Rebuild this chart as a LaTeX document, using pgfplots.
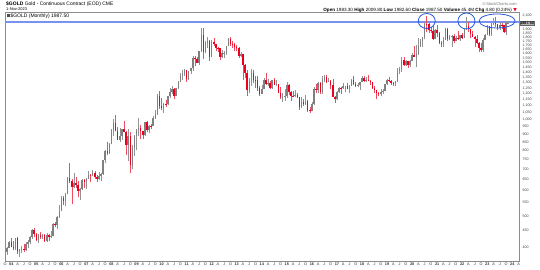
\documentclass[border=0pt]{standalone}
\usepackage{pgfplots}
\pgfplotsset{compat=1.18}
\usepackage{pgfplotstable}
\usepackage{fontspec}
\setmainfont{Liberation Sans}
\newfontfamily\sym{DejaVu Sans}
\definecolor{upc}{rgb}{0.5,0.5,0.5}
\definecolor{dnc}{rgb}{0.92,0.0,0.12}
\definecolor{lineblue}{rgb}{0.47,0.57,0.95}
\definecolor{circblue}{rgb}{0.15,0.35,0.85}
\pgfplotsset{candle/.style={only marks, mark=*, mark size=0pt, mark options={draw=none, fill=none}, forget plot}}

\pgfplotstableread{
m o h l c
-2 386 400 378 398
-1 398 417 396 416
2 396 428 393 427
4 388 395 373 394
5 394 404 384 395
7 391 415 389 408
8 408 420 398 416
9 416 432 410 429
10 429 455 424 453
13 422 438 411 436
15 429 439 423 436
17 417 442 414 437
19 429 448 428 433
20 433 476 432 473
22 470 499 456 496
23 496 542 494 518
24 518 575 517 569
26 556 588 538 585
27 585 660 583 654
30 616 678 613 635
33 599 612 560 606
34 606 651 603 648
36 636 657 608 652
37 652 691 650 672
39 669 697 668 680
42 652 684 648 668
43 668 681 642 673
44 673 749 672 746
45 746 801 729 795
47 783 842 781 838
48 838 935 835 923
49 923 1000 884 975
52 864 938 852 887
53 887 934 863 930
56 833 935 740 884
58 718 829 700 815
59 815 890 770 884
60 884 935 802 928
61 928 1007 889 942
64 891 983 884 979
66 927 960 904 955
68 953 1025 950 1008
69 1008 1071 1002 1040
70 1040 1196 1034 1182
73 1081 1127 1045 1118
75 1115 1185 1110 1179
76 1179 1249 1165 1213
77 1213 1266 1196 1244
79 1181 1250 1178 1247
80 1247 1316 1245 1308
81 1308 1388 1303 1359
82 1359 1425 1329 1386
83 1386 1432 1363 1421
85 1333 1413 1329 1411
86 1411 1448 1380 1439
87 1439 1575 1417 1556
90 1500 1632 1478 1628
91 1628 1917 1620 1828
93 1620 1755 1602 1725
94 1725 1804 1669 1746
96 1566 1764 1562 1738
101 1560 1640 1547 1604
102 1604 1630 1555 1610
103 1610 1695 1586 1692
104 1692 1795 1691 1772
110 1578 1616 1565 1595
114 1234 1348 1208 1312
115 1312 1434 1270 1395
120 1202 1280 1195 1240
121 1240 1345 1238 1321
123 1284 1331 1268 1296
125 1250 1326 1240 1322
127 1282 1322 1273 1287
130 1171 1206 1130 1175
131 1175 1239 1142 1184
132 1184 1307 1167 1278
136 1182 1232 1170 1190
139 1095 1170 1080 1132
141 1114 1191 1107 1142
144 1060 1128 1058 1116
145 1116 1263 1111 1238
147 1234 1303 1206 1292
149 1215 1362 1200 1322
150 1322 1377 1310 1350
152 1309 1344 1302 1316
156 1152 1222 1146 1212
157 1212 1264 1208 1254
159 1249 1297 1240 1268
160 1268 1271 1214 1269
162 1242 1275 1205 1269
163 1269 1331 1266 1322
166 1271 1299 1264 1276
167 1276 1310 1236 1309
168 1309 1366 1303 1345
170 1318 1356 1303 1327
177 1196 1246 1183 1215
178 1215 1240 1196 1222
179 1222 1286 1221 1283
180 1283 1331 1277 1321
184 1286 1315 1267 1311
185 1311 1442 1306 1413
186 1413 1453 1386 1437
187 1437 1566 1400 1529
189 1472 1528 1465 1514
191 1473 1528 1459 1523
192 1523 1613 1517 1588
194 1566 1704 1450 1597
195 1597 1788 1589 1694
196 1694 1775 1680 1751
197 1751 1806 1677 1800
198 1800 2005 1772 1986
203 1780 1911 1775 1895
207 1716 1798 1680 1768
208 1768 1917 1766 1906
210 1771 1834 1767 1817
211 1817 1832 1677 1818
213 1757 1815 1746 1784
215 1775 1831 1753 1829
217 1796 1915 1785 1908
218 1908 2079 1890 1949
226 1640 1786 1618 1768
227 1768 1836 1764 1826
228 1826 1960 1823 1945
230 1836 2010 1810 1986
231 1986 2063 1970 1999
234 1929 2001 1902 1970
237 1870 2019 1823 1996
238 1983.3 2009.8 1982.6 1987.5
}\upcandles

\pgfplotstableread{
m o h l c
0 416 427 399 400
1 400 418 392 396
3 427 430 381 388
6 395 409 385 391
11 453 457 431 438
12 438 441 418 422
14 436 447 424 429
16 436 438 415 417
18 437 440 418 429
21 473 478 461 470
25 569 577 541 556
28 654 733 634 643
29 643 650 543 616
31 635 663 613 626
32 626 640 573 599
35 648 650 612 636
38 672 675 636 669
40 680 692 652 660
41 660 670 639 652
46 795 848 776 783
50 975 1033 916 917
51 917 947 860 864
54 930 990 910 913
55 913 918 775 833
57 884 913 681 718
62 942 962 865 916
63 916 920 866 891
65 979 990 913 927
67 955 964 930 953
71 1182 1227 1075 1097
72 1097 1163 1072 1081
74 1118 1145 1089 1115
78 1244 1250 1155 1181
84 1421 1424 1308 1333
88 1556 1577 1462 1536
89 1536 1560 1496 1500
92 1828 1923 1535 1620
95 1746 1764 1523 1566
97 1738 1792 1692 1711
98 1711 1719 1627 1669
99 1669 1681 1614 1664
100 1664 1670 1527 1560
105 1772 1798 1695 1719
106 1719 1755 1672 1712
107 1712 1723 1636 1675
108 1675 1697 1627 1663
109 1663 1682 1555 1578
111 1595 1598 1321 1476
112 1476 1488 1339 1393
113 1393 1424 1180 1234
116 1395 1424 1292 1327
117 1327 1361 1251 1323
118 1323 1361 1221 1250
119 1250 1268 1182 1202
122 1321 1392 1278 1284
124 1296 1315 1240 1250
126 1322 1346 1280 1282
128 1287 1291 1205 1210
129 1210 1256 1160 1171
133 1278 1286 1191 1212
134 1212 1224 1142 1183
135 1183 1224 1170 1182
137 1190 1205 1162 1172
138 1172 1174 1072 1095
140 1132 1156 1098 1114
142 1142 1145 1052 1065
143 1065 1088 1046 1060
146 1238 1287 1208 1234
148 1292 1306 1199 1215
151 1350 1372 1300 1309
153 1316 1326 1241 1274
154 1274 1338 1171 1173
155 1173 1182 1124 1152
158 1254 1264 1195 1249
161 1269 1298 1238 1242
164 1322 1362 1278 1284
165 1284 1306 1263 1271
169 1345 1366 1307 1318
171 1327 1369 1313 1315
172 1315 1326 1282 1305
173 1305 1310 1245 1253
174 1253 1266 1211 1233
175 1233 1237 1160 1206
176 1206 1214 1180 1196
181 1321 1349 1310 1316
182 1316 1326 1281 1298
183 1298 1310 1267 1286
188 1529 1566 1465 1472
190 1514 1518 1446 1473
193 1588 1692 1563 1566
199 1986 2089 1863 1978
200 1978 1992 1851 1895
201 1895 1933 1860 1879
202 1879 1966 1764 1780
204 1895 1962 1803 1850
205 1850 1875 1717 1728
206 1728 1758 1673 1716
209 1906 1919 1750 1771
212 1818 1836 1721 1757
214 1784 1877 1761 1775
216 1829 1853 1780 1796
219 1949 2001 1872 1911
220 1911 1915 1786 1848
221 1848 1880 1805 1807
222 1807 1814 1680 1781
223 1781 1825 1709 1726
224 1726 1735 1622 1672
225 1672 1730 1619 1640
229 1945 1950 1810 1836
232 1999 2085 1941 1982
233 1982 1985 1900 1929
235 1970 1990 1904 1966
236 1966 1969 1859 1870
}\downcandles

\begin{document}
\begin{tikzpicture}[x=1pt,y=1pt]
\useasboundingbox (0,0) rectangle (540,270);
\begin{axis}[
  at={(5pt,9pt)}, anchor=south west,
  scale only axis, width=514pt, height=248.3pt,
  ymode=log, xmin=-3, xmax=243.2, ymin=362, ymax=2146,
  axis line style={black!45, line width=0.4pt},
  tick style={draw=none},
  clip=true,
  ytick={400,450,500,550,600,650,700,750,800,850,900,950,1000,1050,1100,1150,1200,1250,1300,1350,1400,1450,1500,1550,1600,1650,1700,1750,1800,1850,1900,2100},
  yticklabels={400,450,500,550,600,650,700,750,800,850,900,950,{1,000},{1,050},{1,100},{1,150},{1,200},{1,250},{1,300},{1,350},{1,400},{1,450},{1,500},{1,550},{1,600},{1,650},{1,700},{1,750},{1,800},{1,850},{1,900},{2,100}},
  yticklabel pos=right,
  y tick label style={font=\fontsize{3.6}{3.6}\selectfont, text=black!75, xshift=0pt},
  xtick={-3,0,3,...,243},
  xticklabels={O,\textbf{04},A,J,O,\textbf{05},A,J,O,\textbf{06},A,J,O,\textbf{07},A,J,O,\textbf{08},A,J,O,\textbf{09},A,J,O,\textbf{10},A,J,O,\textbf{11},A,J,O,\textbf{12},A,J,O,\textbf{13},A,J,O,\textbf{14},A,J,O,\textbf{15},A,J,O,\textbf{16},A,J,O,\textbf{17},A,J,O,\textbf{18},A,J,O,\textbf{19},A,J,O,\textbf{20},A,J,O,\textbf{21},A,J,O,\textbf{22},A,J,O,\textbf{23},A,J,O,\textbf{24},A},
  x tick label style={font=\fontsize{3.8}{3.8}\selectfont, text=black!80, inner sep=1.5pt},
]
\addplot[lineblue, line width=1.6pt, forget plot] coordinates {(-3,2010) (243.2,2010)};
% wicks
\addplot[upc, candle,
  error bars/.cd, y dir=plus, y explicit, error mark=none,
  error bar style={line width=0.5pt, upc!85}]
  table[x=m, y=l, y error expr=\thisrow{h}-\thisrow{l}] {\upcandles};
\addplot[dnc, candle,
  error bars/.cd, y dir=plus, y explicit, error mark=none,
  error bar style={line width=0.5pt, dnc!70!white}]
  table[x=m, y=l, y error expr=\thisrow{h}-\thisrow{l}] {\downcandles};
% bodies
\addplot[upc, candle,
  error bars/.cd, y dir=plus, y explicit, error mark=none,
  error bar style={line width=1.5pt, upc}]
  table[x=m, y=o, y error expr=\thisrow{c}-\thisrow{o}] {\upcandles};
\addplot[dnc, candle,
  error bars/.cd, y dir=plus, y explicit, error mark=none,
  error bar style={line width=1.5pt, dnc}]
  table[x=m, y=c, y error expr=\thisrow{o}-\thisrow{c}] {\downcandles};
% annotation circles
\draw[circblue, line width=0.8pt] (axis cs:199,2022) ellipse [x radius=8.5pt, y radius=7.5pt];
\draw[circblue, line width=0.8pt] (axis cs:218,2022) ellipse [x radius=8.5pt, y radius=8pt];
\draw[circblue, line width=0.8pt] (axis cs:232.7,2022) ellipse [x radius=18pt, y radius=7pt];
\end{axis}
% price tag
\node[anchor=west, fill=black!30, draw=black!60, line width=0.3pt, inner sep=0.6pt, font=\fontsize{3.8}{3.8}\selectfont\bfseries] at (519.5,246.6) {1987.50};
% header texts
\node[anchor=west, inner sep=0pt, font=\fontsize{5}{5}\selectfont] at (6,266) {\textbf{\$GOLD} Gold - Continuous Contract (EOD) CME};
\node[anchor=west, inner sep=0pt, font=\fontsize{4}{4}\selectfont] at (6,260.5) {1-Nov-2023};
\node[anchor=west, inner sep=0pt, font=\fontsize{5}{5}\selectfont] at (7,254) {{\color{black!70}\rule{2.5pt}{3pt}}\,\$GOLD (Monthly) 1987.50};
\node[anchor=east, inner sep=0pt, font=\fontsize{4}{4}\selectfont, text=black!55] at (517,266) {\textcopyright\,StockCharts.com};
\node[anchor=east, inner sep=0pt, font=\fontsize{4.6}{4.6}\selectfont] at (517,260) {\textbf{Open} 1983.30 \textbf{High} 2009.80 \textbf{Low} 1982.60 \textbf{Close} 1987.50 \textbf{Volume} 45.4M \textbf{Chg} 4.80 (0.24\%) {\color{dnc}\sym ▼}};
\end{tikzpicture}
\end{document}
